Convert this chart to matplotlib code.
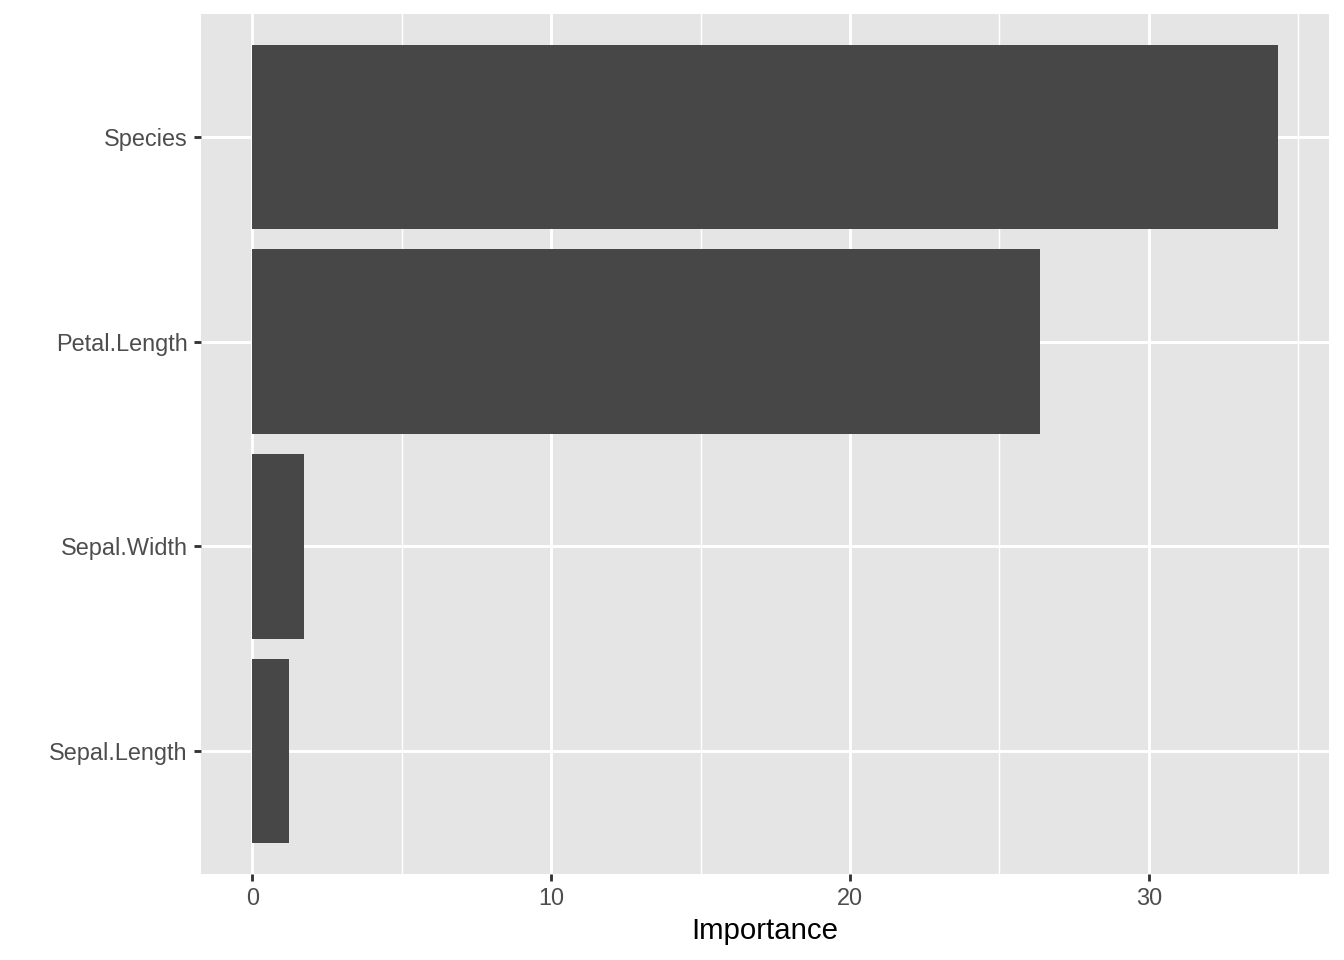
import numpy as np
import matplotlib.pyplot as plt
from matplotlib.ticker import MultipleLocator

plt.rcParams['font.family'] = ['Liberation Sans', 'DejaVu Sans']

variables = ['Sepal.Length', 'Sepal.Width', 'Petal.Length', 'Species']
importance = [1.24, 1.74, 26.36, 34.31]

fig = plt.figure(figsize=(7, 5), dpi=192)
ax = fig.add_axes([0.1496, 0.0896, 0.9888 - 0.1496, 0.9854 - 0.0896])

ax.set_facecolor('#E5E5E5')
pos = np.arange(1, len(variables) + 1)
ax.barh(pos, importance, height=0.9, color='#474747', zorder=3)

xmax = max(importance)
ax.set_xlim(-0.05 * xmax, 1.05 * xmax)
ax.set_ylim(0.4, len(variables) + 0.6)

ax.xaxis.set_major_locator(MultipleLocator(10))
ax.xaxis.set_minor_locator(MultipleLocator(5))
ax.set_yticks(pos)
ax.set_yticklabels(variables)

ax.grid(which='major', color='white', linewidth=1.07, zorder=0)
ax.grid(which='minor', axis='x', color='white', linewidth=0.53, zorder=0)
ax.set_axisbelow(True)

for s in ax.spines.values():
    s.set_visible(False)

ax.tick_params(which='major', length=2.75, width=1.07, color='#333333',
               labelcolor='#4D4D4D', labelsize=8.8, pad=2.2)
ax.tick_params(which='minor', length=0)

ax.set_xlabel('Importance', fontsize=11, color='black', labelpad=2.5)

fig.savefig('out.png', dpi=192)
